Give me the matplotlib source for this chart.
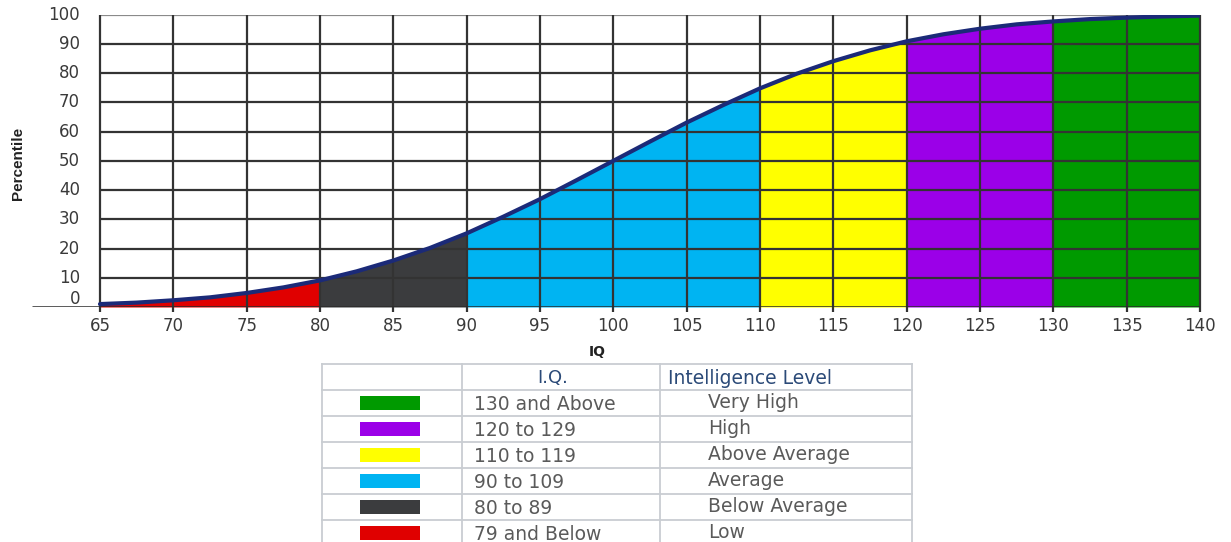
import matplotlib
matplotlib.use("Agg")
import matplotlib.pyplot as plt
from matplotlib.patches import Rectangle
from matplotlib.transforms import blended_transform_factory

# Cumulative percentile by IQ score
iq = [65, 67.5, 70, 72.5, 75, 77.5, 80, 82.5, 85, 87.5, 90, 92.5, 95, 97.5,
      100, 102.5, 105, 107.5, 110, 112.5, 115, 117.5, 120, 122.5, 125, 127.5,
      130, 132.5, 135, 137.5, 140]
percentile = [1.0, 1.5, 2.3, 3.3, 4.8, 6.7, 9.1, 12.2, 15.9, 20.2, 25.2, 30.9,
              36.9, 43.4, 50.0, 56.6, 63.1, 69.1, 74.8, 79.8, 84.1, 87.8, 90.9,
              93.3, 95.2, 96.7, 97.7, 98.5, 99.0, 99.4, 99.7]

# Classification bands (lower edge, upper edge, colour)
band_edges = [65, 80, 90, 110, 120, 130, 140]
band_colors = ["#e00000", "#3b3c3e", "#00b4f2", "#ffff00", "#9b00e8", "#009a00"]

x_ticks = list(range(65, 141, 5))
y_ticks = list(range(0, 101, 10))

# Legend table rows
table_colors = ["#009a00", "#9b00e8", "#ffff00", "#00b4f2", "#3b3c3e", "#e00000"]
table_iq = ["130 and Above", "120 to 129", "110 to 119", "90 to 109",
            "80 to 89", "79 and Below"]
table_level = ["Very High", "High", "Above Average", "Average",
               "Below Average", "Low"]
table_header = ["I.Q.", "Intelligence Level"]

W, H = 1231, 542
fig = plt.figure(figsize=(W / 100, H / 100), dpi=100)
fig.patch.set_facecolor("white")

left_px, right_px, top_px, bottom_px = 32, 1200, 14.7, 307
ax = fig.add_axes([left_px / W, 1 - bottom_px / H,
                   (right_px - left_px) / W, (bottom_px - top_px) / H])
x0, x1 = 65, 140
xmin = x0 - (100 - left_px) / ((right_px - 100) / (x1 - x0))
ax.set_xlim(xmin, x1)
ax.set_ylim(0, 100)
ax.axis("off")

# Coloured bands under the curve
for lo, hi, col in zip(band_edges[:-1], band_edges[1:], band_colors):
    i0, i1 = iq.index(lo), iq.index(hi)
    ax.fill_between(iq[i0:i1 + 1], 0, percentile[i0:i1 + 1], color=col,
                    lw=0, zorder=1)

# Grid
grid_col = "#333333"
for y in y_ticks[1:]:
    ax.plot([x0, x1], [y, y], color="#8a8a8a" if y == 100 else grid_col,
            lw=1.6, zorder=2, solid_capstyle="butt")
for x in x_ticks:
    ax.plot([x, x], [-1.7, 100], color=grid_col, lw=1.6, zorder=2,
            clip_on=False, solid_capstyle="butt")
ax.plot([xmin, x1], [0, 0], color="#2a2a2a", lw=1.8, zorder=2,
        solid_capstyle="butt")

# Curve
ax.plot(iq, percentile, color="#1b2a78", lw=3.0, zorder=3,
        solid_capstyle="round")

# Tick labels
tick_col = "#3a3a3a"
trx = blended_transform_factory(ax.transData, ax.transAxes)
for x in x_ticks:
    ax.text(x, -0.066, str(x), transform=trx, ha="center", va="center",
            fontsize=12, color=tick_col, clip_on=False)
try_y = blended_transform_factory(fig.transFigure, ax.transData)
for y in y_ticks:
    yy = y + 2.7 if y == 0 else y
    ax.text(80 / W, yy, str(y), transform=try_y, ha="right", va="center",
            fontsize=12, color=tick_col, clip_on=False)

fig.text(597 / W, 1 - 352 / H, "IQ", ha="center", va="center",
         fontsize=10, fontweight="bold", color="#222222")
fig.text(18 / W, 1 - 163 / H, "Percentile", rotation=90, ha="center",
         va="center", fontsize=11, fontweight="bold", color="#222222",
         family=["Liberation Sans Narrow", "Liberation Sans", "DejaVu Sans"],
         fontstretch="condensed")

# Legend table
tab = fig.add_axes([0, 0, 1, 1], zorder=5)
tab.set_xlim(0, W)
tab.set_ylim(H, 0)
tab.axis("off")
tab.patch.set_alpha(0)

col_x = [322, 462, 660, 912]
row_y = [364, 390, 416, 442, 468, 494, 520, 546]
line_col = "#c9cdd2"
for x in col_x:
    tab.plot([x, x], [row_y[0], row_y[-1]], color=line_col, lw=1.3,
             clip_on=False)
for y in row_y:
    tab.plot([col_x[0], col_x[-1]], [y, y], color=line_col, lw=1.3,
             clip_on=False)

tfont = ["DejaVu Sans"]
head_col = "#2b4a78"
tab.text(553, 378, table_header[0], ha="center", va="center", fontsize=13,
         color=head_col, family=tfont)
tab.text(668, 378, table_header[1], ha="left", va="center", fontsize=13.5,
         color=head_col, family=tfont)
for k, (c, a, b) in enumerate(zip(table_colors, table_iq, table_level)):
    yc = (row_y[k + 1] + row_y[k + 2]) / 2
    tab.add_patch(Rectangle((360, yc - 7.5), 60, 14, color=c, lw=0))
    tab.text(474, yc + 1, a, ha="left", va="center", fontsize=13.5,
             color="#5a5a5a", family=tfont)
    tab.text(708, yc, b, ha="left", va="center", fontsize=13.5,
             color="#5a5a5a", family=tfont)

fig.savefig("out.png", dpi=100)
